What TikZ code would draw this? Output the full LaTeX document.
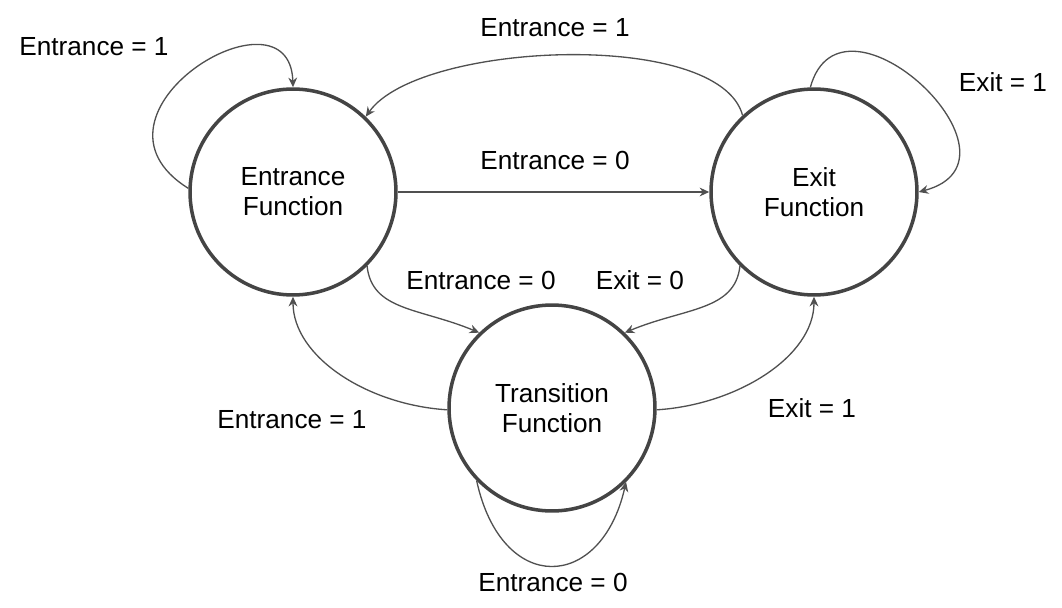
\documentclass[tikz,border=0pt]{standalone}
\usepackage{fontspec}
\setmainfont{Liberation Sans}
\usetikzlibrary{arrows.meta}
\definecolor{ringgray}{HTML}{444444}
\definecolor{linegray}{HTML}{505050}
\tikzset{
    state/.style={draw=ringgray, line width=2pt, circle, minimum size=4.12cm, inner sep=0, align=center, font=\fontsize{14.9}{17}\selectfont},
    trans/.style={draw=linegray, line width=0.75pt, -{Stealth[length=5.5pt, width=5pt, inset=1.8pt]}},
    lbl/.style={inner sep=0, font=\fontsize{14.9}{17}\selectfont}
}
\begin{document}
\begin{tikzpicture}[x=0.02cm, y=-0.02cm]
    \useasboundingbox (0,0) rectangle (1062,608);
    \node[state] (entr) at (293,192) {Entrance\\Function};
    \node[state] (exit) at (814,192) {Exit\\Function};
    \node[state] (tran) at (552,408) {Transition\\Function};
    \node[lbl] (l1) at (94,47) {Entrance = 1};
    \node[lbl] (l2) at (555,28) {Entrance = 1};
    \node[lbl] (l3) at (1003,82) {Exit = 1};
    \node[lbl] (l4) at (555,160) {Entrance = 0};
    \node[lbl] (l5) at (481,280) {Entrance = 0};
    \node[lbl] (l6) at (640,280) {Exit = 0};
    \node[lbl] (l7) at (292,420) {Entrance = 1};
    \node[lbl] (l8) at (812,408) {Exit = 1};
    \node[lbl] (l9) at (553,582) {Entrance = 0};
    \draw[trans] (entr.178) .. controls +(-120,-75) and +(-3,-108) .. (entr.90);
    \draw[trans] (exit.92) .. controls +(31,-113) and +(120,-32) .. (exit.0);
    \draw[trans] (exit.133) .. controls +(-23,-87) and +(53,-75) .. (entr.46);
    \draw[trans] (entr.0) -- (exit.180);
    \draw[trans] (entr.-45) .. controls +(5,45) and +(-60,-25) .. (tran.134);
    \draw[trans] (exit.-135) .. controls +(-5,45) and +(60,-25) .. (tran.46);
    \draw[trans] (tran.181) .. controls +(-80,-5) and +(0,60) .. (entr.-90);
    \draw[trans] (tran.-1) .. controls +(80,-5) and +(0,60) .. (exit.-90);
    \draw[trans] (tran.224) .. controls +(25,115) and +(-25,110) .. (tran.-45);
\end{tikzpicture}
\end{document}
